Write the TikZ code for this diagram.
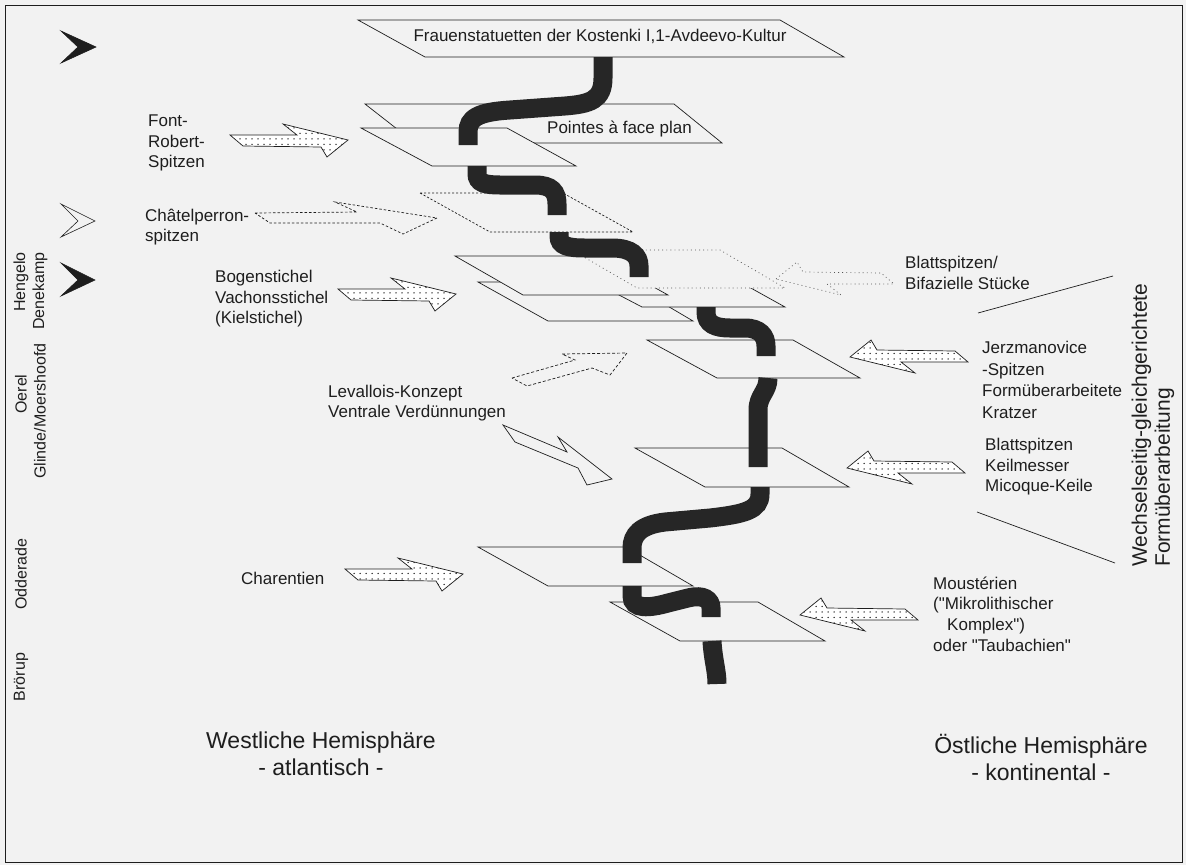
\documentclass[tikz,border=0pt]{standalone}
\usepackage{fontspec}
\setmainfont{Liberation Sans}
\newfontfamily\lib{Liberation Sans}
\usetikzlibrary{patterns}
\pgfdeclarepatternformonly{sdots}{\pgfqpoint{-1pt}{-1pt}}{\pgfqpoint{1pt}{1pt}}{\pgfqpoint{6pt}{5.5pt}}{\pgfpathcircle{\pgfqpoint{0pt}{0pt}}{0.75pt}\pgfusepath{fill}}
\definecolor{bg}{HTML}{F2F2F2}
\definecolor{ink}{HTML}{1E1E1E}
\definecolor{snake}{HTML}{262626}
\begin{document}
\begin{tikzpicture}[x=1pt,y=-1pt,
 plane/.style={draw=ink, line width=0.7pt, fill=bg, line join=miter},
 dplane/.style={plane, dash pattern=on 2.2pt off 1.8pt},
 oplane/.style={plane, draw=ink!75, dash pattern=on 0.9pt off 3.2pt},
 tube/.style={draw=snake, line width=19pt, line cap=butt},
 darr/.style={draw=ink, line width=0.7pt, fill=white, postaction={pattern=sdots, pattern color=ink}},
 dasharr/.style={draw=ink, line width=0.7pt, dash pattern=on 2.5pt off 2pt},
 lbl/.style={anchor=west, align=left, inner sep=0pt, text=ink, font=\lib\fontsize{17}{20.5}\selectfont},
 big/.style={align=center, inner sep=0pt, text=ink, font=\lib\fontsize{23}{27}\selectfont},
 rot/.style={rotate=90, inner sep=0pt, text=ink, font=\lib\fontsize{16}{19}\selectfont},
 chev/.style={fill=ink, draw=ink, line width=0.6pt, line join=miter},
 rarrow/.pic={\path[darr] (-118,-5) -- (-51,-5) -- (-65,-16) -- (0,0) -- (-21,17) -- (-27,7) -- (-105,6) -- cycle;},
]
\fill[bg] (0,0) rectangle (1186,865);
\useasboundingbox (0,0) rectangle (1186,865);
\draw[ink, line width=0.8pt] (5,5) rectangle (1182,862);

% chevrons on the left
\path[chev] (61,31) -- (96,47) -- (61,63) -- (78,47) -- cycle;
\path[chev, fill=none] (61,204) -- (95,221) -- (61,237) -- (78,221) -- cycle;
\path[chev] (61,263) -- (95,280) -- (61,296) -- (78,280) -- cycle;

% top plane
\path[plane] (358,20) -- (780,20) -- (844,57) -- (425,57) -- cycle;
\node[inner sep=0pt, text=ink, font=\lib\fontsize{17}{20}\selectfont] (frau) at (600,36) {Frauenstatuetten der Kostenki I,1-Avdeevo-Kultur};

% Pointes / Font-Robert planes
\path[plane] (365,104) -- (674,104) -- (722,143) -- (415,143) -- cycle;
\path[plane] (361,128) -- (507,128) -- (576,166) -- (432,166) -- cycle;
\node[lbl] (pointes) at (547,129) {Pointes à face plan};
\path[tube] (603,57) -- (603,78) .. controls (603,100) and (590,104) .. (565,106) -- (510,110) .. controls (478,112) and (468,118) .. (468,132) -- (468,145);

% Chatelperron plane
\path[dplane] (420,193) -- (563,193) -- (633,232) -- (490,232) -- cycle;
\path[tube] (477,166) -- (477,174) .. controls (477,183) and (485,185) .. (500,185) -- (535,185) .. controls (552,185) and (557,192) .. (557,204) -- (557,215);

% stacked planes
\path[plane] (478,282) -- (627,282) -- (693,321) -- (548,321) -- cycle;
\path[plane] (575,272) -- (722,272) -- (785,307) -- (642,307) -- cycle;
\path[plane] (455,256) -- (598,256) -- (668,295) -- (523,295) -- cycle;
\path[oplane] (572,250) -- (720,250) -- (785,288) -- (637,288) -- cycle;
\path[tube] (559,232) -- (559,236) .. controls (559,246) and (568,248) .. (585,248) -- (612,248) .. controls (632,248) and (639,256) .. (639,266) -- (639,277);

% Jerzmanovice plane
\path[plane] (647,340) -- (793,340) -- (860,378) -- (717,378) -- cycle;
\path[tube] (706,307) -- (706,312) .. controls (706,324) and (715,328) .. (730,328) -- (745,328) .. controls (760,328) and (766,336) .. (766,346) -- (766,356);

% Keilmesser plane
\path[plane] (635,448) -- (782,448) -- (849,487) -- (705,487) -- cycle;
\path[tube] (768,378) .. controls (768,392) and (758,395) .. (758,410) -- (758,467);

% Charentien plane
\path[plane] (478,547) -- (626,547) -- (693,586) -- (548,586) -- cycle;
\path[tube] (760,487) -- (760,494) .. controls (760,510) and (745,514) .. (710,518) -- (665,522) .. controls (640,525) and (632,535) .. (632,548) -- (632,563);

% Mousterien plane
\path[plane] (610,602) -- (758,602) -- (825,641) -- (680,641) -- cycle;
\path[tube] (632,586) -- (632,596) .. controls (632,610) and (650,608) .. (668,603) -- (688,598) .. controls (704,594) and (711,600) .. (711,608) -- (711,617);
\path[tube] (712,641) .. controls (713,660) and (717,670) .. (717,684);

% arrows from the west
\pic at (348,140) {rarrow};
\pic at (456,294) {rarrow};
\pic at (463,574) {rarrow};
\path[dasharr] (255,213) -- (357,212) -- (335,202) -- (437,218) -- (403,234) -- (380,223) -- (270,223) -- cycle;
\path[dasharr, dash pattern=on 3pt off 2pt] (512,378) -- (575,360) -- (562,354) -- (627,353) -- (610,375) -- (592,368) -- (527,386) -- cycle;
\path[draw=ink, line width=0.7pt] (503,425) -- (567,452) -- (558,437) -- (612,479) -- (587,485) -- (578,468) -- (515,442) -- cycle;

% arrows from the east
\pic[rotate=180] at (850,357) {rarrow};
\pic[rotate=180] at (847,468) {rarrow};
\pic[rotate=180] at (800,615) {rarrow};
\path[draw=ink!75, line width=0.7pt, dash pattern=on 0.9pt off 3.2pt] (776,279) -- (797,262) -- (803,272) -- (881,273) -- (894,284) -- (827,284) -- (841,295) -- cycle;

% bracket lines
\coordinate (b1a) at (978,313);
\coordinate (b1b) at (1113,276);
\coordinate (b2a) at (977,512);
\coordinate (b2b) at (1115,563);
\draw[ink, line width=0.7pt] (b1a) -- (b1b);
\draw[ink, line width=0.7pt] (b2a) -- (b2b);

% labels west
\node[lbl] (fontrobert) at (148,143) {Font-\\Robert-\\Spitzen};
\node[lbl] (chatel) at (145,227) {Châtelperron-\\spitzen};
\node[lbl] (bogen) at (215,299) {Bogenstichel\\Vachonsstichel\\(Kielstichel)};
\node[lbl] (leval) at (328,403) {Levallois-Konzept\\Ventrale Verdünnungen};
\node[lbl] (charent) at (241,578) {Charentien};

% labels east
\node[lbl] (blatt1) at (905,273) {Blattspitzen/\\Bifazielle Stücke};
\node[lbl, font=\lib\fontsize{17}{21.5}\selectfont] (jerz) at (982,380) {Jerzmanovice\\-Spitzen\\Formüberarbeitete\\Kratzer};
\node[lbl] (blatt2) at (985,467) {Blattspitzen\\Keilmesser\\Micoque-Keile};
\node[lbl, font=\lib\fontsize{17}{20.7}\selectfont] (moust) at (933,614) {Moustérien\\("Mikrolithischer\\\hspace*{14pt}Komplex")\\oder "Taubachien"};

% hemispheres
\node[big] (west) at (321,754) {Westliche Hemisphäre\\- atlantisch -};
\node[big] (east) at (1041,757) {Östliche Hemisphäre\\- kontinental -};

% rotated labels
\node[rot] (heng) at (21,282) {Hengelo};
\node[rot] (dene) at (40,291) {Denekamp};
\node[rot] (oerel) at (21,394) {Oerel};
\node[rot] (glinde) at (40,411) {Glinde/Moershoofd};
\node[rot] (odde) at (21,574) {Odderade};
\node[rot] (broe) at (21,677) {Brörup};
\node[rot, anchor=west, align=left, font=\lib\fontsize{21}{23}\selectfont] (wechsel) at (1153,567) {Wechselseitig-gleichgerichtete\\Formüberarbeitung};
\end{tikzpicture}
\end{document}
